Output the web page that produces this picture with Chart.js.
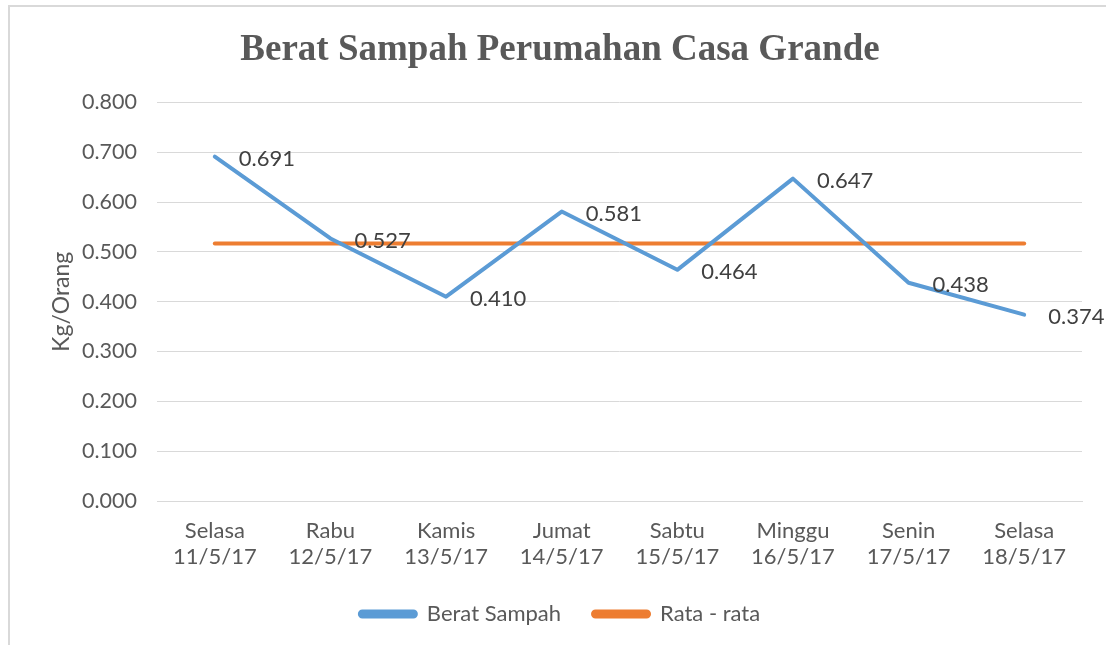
<!DOCTYPE html>
<html>
<head>
<meta charset="utf-8">
<script src="https://cdn.jsdelivr.net/npm/chart.js@4"></script>
<style>
  body { margin: 0; background: #fff; }
  #wrap { position: relative; width: 1106px; height: 645px; }
  #frame { position: absolute; left: 8px; top: 5px; right: 0; bottom: 0;
           border-left: 2px solid #d9d9d9; border-top: 2px solid #d9d9d9; }
  canvas { position: absolute; left: 0; top: 0; }
</style>
</head>
<body>
<div id="wrap">
  <div id="frame"></div>
  <canvas id="lineChart" width="1106" height="645"></canvas>
</div>
<script>
const days = ["Selasa", "Rabu", "Kamis", "Jumat", "Sabtu", "Minggu", "Senin", "Selasa"];
const dates = ["11/5/17", "12/5/17", "13/5/17", "14/5/17", "15/5/17", "16/5/17", "17/5/17", "18/5/17"];
const beratSampah = [0.691, 0.527, 0.410, 0.581, 0.464, 0.647, 0.438, 0.374];
const rataRata = [0.517, 0.517, 0.517, 0.517, 0.517, 0.517, 0.517, 0.517];

const labels = days.map((d, i) => [d, dates[i]]);

// value labels to the right of each blue point
const valueLabels = {
  id: 'valueLabels',
  afterDatasetsDraw(chart) {
    const ctx = chart.ctx;
    const meta = chart.getDatasetMeta(0);
    ctx.save();
    ctx.font = '22px Lato';
    ctx.fillStyle = '#404040';
    ctx.textAlign = 'left';
    ctx.textBaseline = 'middle';
    meta.data.forEach((pt, i) => {
      ctx.fillText(beratSampah[i].toFixed(3), pt.x + 24, pt.y + 2);
    });
    ctx.restore();
  }
};

const ctx = document.getElementById("lineChart").getContext("2d");
new Chart(ctx, {
  type: 'line',
  data: {
    labels: labels,
    datasets: [{
      label: 'Berat Sampah',
      data: beratSampah,
      borderColor: '#5B9BD5',
      backgroundColor: '#5B9BD5',
      borderWidth: 4,
      borderCapStyle: 'round',
      borderJoinStyle: 'round',
      pointRadius: 0,
      tension: 0
    }, {
      label: 'Rata - rata',
      data: rataRata,
      borderColor: '#ED7D31',
      backgroundColor: '#ED7D31',
      borderWidth: 4,
      borderCapStyle: 'round',
      pointRadius: 0,
      tension: 0
    }]
  },
  options: {
    responsive: false,
    animation: false,
    layout: { padding: { left: 38, right: 24, top: 0, bottom: 10 } },
    plugins: {
      title: {
        display: true,
        text: 'Berat Sampah Perumahan Casa Grande',
        color: '#595959',
        font: { family: 'Liberation Serif', size: 37, weight: 'bold' },
        padding: { top: 28, bottom: 30 }
      },
      legend: {
        position: 'bottom',
        labels: {
          color: '#595959',
          font: { family: 'Lato', size: 22 },
          boxWidth: 56,
          boxHeight: 5,
          useBorderRadius: true,
          borderRadius: 2.5,
          padding: 32
        }
      },
      tooltip: { enabled: false }
    },
    scales: {
      x: {
        offset: true,
        grid: { display: false, drawTicks: false },
        border: { display: true, color: '#d9d9d9', width: 1 },
        ticks: {
          color: '#595959',
          font: { family: 'Lato', size: 22, lineHeight: 1.18 },
          padding: 17,
          maxRotation: 0
        },
        afterFit(scale) { scale.height = 70; }
      },
      y: {
        min: 0,
        max: 0.8,
        grid: { color: '#d9d9d9', lineWidth: 1, drawTicks: false },
        border: { display: false },
        ticks: {
          stepSize: 0.1,
          color: '#595959',
          font: { family: 'Lato', size: 21.5 },
          padding: 20,
          callback: v => v.toFixed(3)
        },
        title: {
          display: true,
          text: 'Kg/Orang',
          color: '#595959',
          font: { family: 'Lato', size: 23 },
          padding: { top: 10, bottom: 0 }
        },
        afterFit(scale) { scale.width = 119; }
      }
    }
  },
  plugins: [valueLabels]
});
</script>
</body>
</html>
